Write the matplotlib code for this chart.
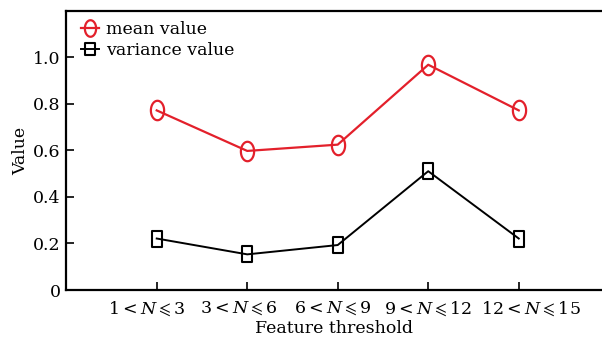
import numpy as np
import matplotlib
matplotlib.use("Agg")
import matplotlib.pyplot as plt
from matplotlib.path import Path
from matplotlib.transforms import ScaledTranslation

plt.rcParams['font.family'] = ['DejaVu Serif']
plt.rcParams['mathtext.fontset'] = 'dejavuserif'

categories = [r'$1<N\leqslant3$', r'$3<N\leqslant6$', r'$6<N\leqslant9$',
              r'$9<N\leqslant12$', r'$12<N\leqslant15$']
mean_value = [0.771, 0.597, 0.624, 0.967, 0.771]
variance_value = [0.221, 0.153, 0.193, 0.510, 0.221]
yticks = [0, 0.2, 0.4, 0.6, 0.8, 1.0]
ytick_labels = ['0', '0.2', '0.4', '0.6', '0.8', '1.0']

# tall ellipse and tall rectangle markers
t = np.linspace(0, 2 * np.pi, 60)
ellipse = Path(np.column_stack([0.68 * np.cos(t), np.sin(t)]), closed=True)
rect = Path([(-0.7, -1), (0.7, -1), (0.7, 1), (-0.7, 1), (-0.7, -1)], closed=True)

fs = 12.5
fig = plt.figure(figsize=(6.02, 3.38), dpi=100)
ax = fig.add_axes([0.11, 0.142, 0.89, 0.825])

x = np.arange(1, len(categories) + 1)
ax.plot(x, mean_value, color='#e3202b', lw=1.6, marker=ellipse, ms=14,
        mfc='none', mec='#e3202b', mew=1.6, label='mean value')
ax.plot(x, variance_value, color='black', lw=1.4, marker=rect, ms=11,
        mfc='none', mec='black', mew=1.5, label='variance value')

ax.set_xlim(0, 5.92)
ax.set_ylim(0, 1.197)
ax.set_xticks(x)
ax.set_xticklabels(categories, fontsize=fs)
ax.set_yticks(yticks)
ax.set_yticklabels(ytick_labels, fontsize=fs)
ax.tick_params(direction='in', length=6, width=1.2, pad=4)
ax.tick_params(axis='x', pad=7)

# nudge the long tick labels sideways so they don't run into each other
shifts = [-10, -8, -5, 0, 12]
for lab, dx in zip(ax.get_xticklabels(), shifts):
    lab.set_transform(lab.get_transform() + ScaledTranslation(dx / 100, 0, fig.dpi_scale_trans))

for s in ['left', 'bottom', 'top']:
    ax.spines[s].set_linewidth(1.6)
ax.spines['right'].set_visible(False)

ax.set_xlabel('Feature threshold', fontsize=fs, labelpad=1)
ax.set_ylabel('Value', fontsize=fs, labelpad=3)

ax.legend(loc='upper left', bbox_to_anchor=(0.028, 0.963), frameon=False,
          fontsize=fs, handlelength=1.0, handletextpad=0.45, labelspacing=0.2,
          borderaxespad=0, borderpad=0, markerscale=0.85)

fig.savefig('out.png', dpi=100)
